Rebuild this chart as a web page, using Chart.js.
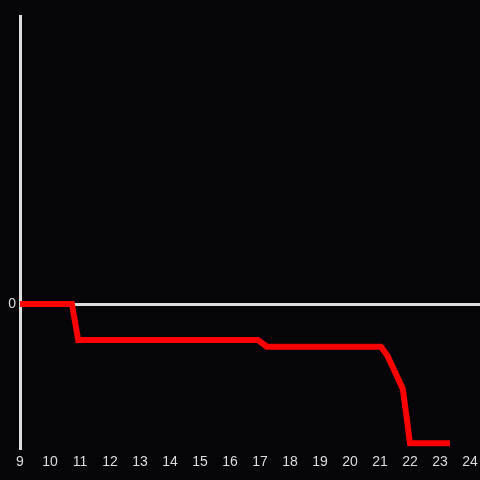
<!DOCTYPE html>
<html>
<head>
<meta charset="utf-8">
<script src="https://cdn.jsdelivr.net/npm/chart.js@4"></script>
<style>
  html, body { margin: 0; padding: 0; background: #050408; }
  #wrap { width: 480px; height: 480px; }
</style>
</head>
<body>
<div id="wrap"><canvas id="myChart" width="480" height="480"></canvas></div>
<script>
// data
const xValues = [9, 10.73, 10.94, 16.93, 17.23, 21.03, 21.25, 21.76, 22.0, 23.33];
const yValues = [0, 0, -0.25, -0.25, -0.297, -0.297, -0.36, -0.59, -0.967, -0.967];
const xTickLabels = [9, 10, 11, 12, 13, 14, 15, 16, 17, 18, 19, 20, 21, 22, 23, 24];
const yTickLabels = [0];

const points = xValues.map((x, i) => ({ x: x, y: yValues[i] }));
const axisColor = '#dddddd';

const ctx = document.getElementById('myChart').getContext('2d');
const myChart = new Chart(ctx, {
  type: 'line',
  data: {
    datasets: [
      {
        data: points,
        borderColor: '#ff0000',
        borderWidth: 6,
        pointRadius: 0,
        tension: 0,
        fill: false,
      },
    ],
  },
  options: {
    responsive: false,
    animation: false,
    layout: { padding: { top: 16, right: 0, left: 0, bottom: 0 } },
    plugins: { legend: { display: false }, tooltip: { enabled: false } },
    scales: {
      x: {
        type: 'linear',
        min: 9,
        max: 24.333,
        afterBuildTicks: (s) => { s.ticks = xTickLabels.map((v) => ({ value: v })); },
        afterFit: (s) => { s.height = 32; s.paddingLeft = 0; s.paddingRight = 0; },
        grid: { display: false, drawTicks: false },
        border: { display: false },
        ticks: {
          color: axisColor,
          font: { family: 'Liberation Sans', size: 14 },
          padding: 6,
          autoSkip: false,
          maxRotation: 0,
        },
      },
      y: {
        min: -1,
        max: 2,
        afterBuildTicks: (s) => { s.ticks = yTickLabels.map((v) => ({ value: v })); },
        afterFit: (s) => { s.width = 20; s.paddingTop = 0; s.paddingBottom = 0; },
        grid: { color: axisColor, lineWidth: 3, drawTicks: false },
        border: { display: true, color: axisColor, width: 3 },
        ticks: {
          color: axisColor,
          font: { family: 'Liberation Sans', size: 14 },
          padding: 4,
        },
      },
    },
  },
});
</script>
</body>
</html>
